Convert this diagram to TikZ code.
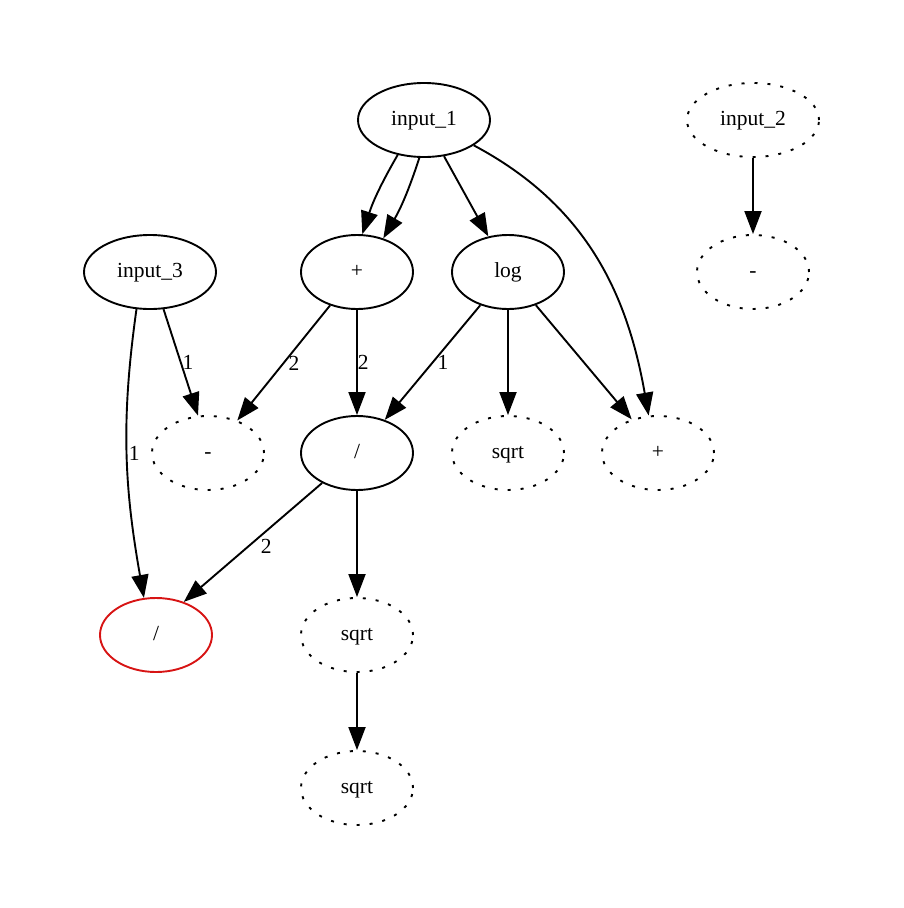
\documentclass[tikz,border=0pt]{standalone}
\usepackage{fontspec}
\setmainfont{Liberation Serif}
\usetikzlibrary{shapes.geometric,arrows.meta}
\definecolor{gvred}{RGB}{215,20,20}
\tikzset{
  op/.style={ellipse, draw, line width=1.9pt, minimum width=112pt, minimum height=74pt, inner sep=0pt, text height=11pt, text depth=0pt, font=\fontsize{21.5}{25}\selectfont},
  inp/.style={op, minimum width=132pt},
  dotbox/.style={dash pattern=on 3pt off 10pt},
  redbox/.style={draw=gvred},
  edge/.style={line width=1.9pt, -{Triangle[length=23pt,width=17pt]}},
  elabel/.style={font=\fontsize{21.5}{25}\selectfont, inner sep=1pt}
}
\begin{document}
\begin{tikzpicture}[x=1pt,y=-1pt]
\useasboundingbox (0,0) rectangle (904,908);
\node[inp] (in1) at (424,120) {input\_1};
\node[inp,dotbox] (in2) at (753,120) {input\_2};
\node[inp] (in3) at (150,272) {input\_3};
\node[op] (plus) at (357,272) {+};
\node[op] (log) at (508,272) {log};
\node[op,dotbox] (minusB) at (753,272) {-};
\node[op,dotbox] (minusA) at (208,453) {-};
\node[op] (divA) at (357,453) {/};
\node[op,dotbox] (sqrtA) at (508,453) {sqrt};
\node[op,dotbox] (plusB) at (658,453) {+};
\node[op,redbox] (divB) at (156,635) {/};
\node[op,dotbox] (sqrtB) at (357,635) {sqrt};
\node[op,dotbox] (sqrtC) at (357,788) {sqrt};

\draw[edge] (in1.233) to[bend right=6] (plus.82);
\draw[edge] (in1.263) to[bend left=6] (plus.52);
\draw[edge] (in1) -- (log);
\draw[edge] (in1.333) to[out=-28, in=100] (plusB.104);
\draw[edge] (in2) -- (minusB);
\draw[edge] (in3.290) -- node[elabel, right] {1} (minusA.105);
\draw[edge] (in3.250) to[out=262, in=100] node[elabel, right, pos=0.5] {1} (divB.108);
\draw[edge] (plus) -- node[elabel, right, xshift=3pt] {2} (minusA.48);
\draw[edge] (plus) -- node[elabel, right, inner sep=0pt] {2} (divA);
\draw[edge] (log) -- node[elabel, right, xshift=3pt] {1} (divA.50);
\draw[edge] (log) -- (sqrtA);
\draw[edge] (log) -- (plusB.128);
\draw[edge] (divA) -- node[elabel, right, xshift=6pt, yshift=-4pt] {2} (divB.50);
\draw[edge] (divA) -- (sqrtB);
\draw[edge] (sqrtB) -- (sqrtC);
\end{tikzpicture}
\end{document}
